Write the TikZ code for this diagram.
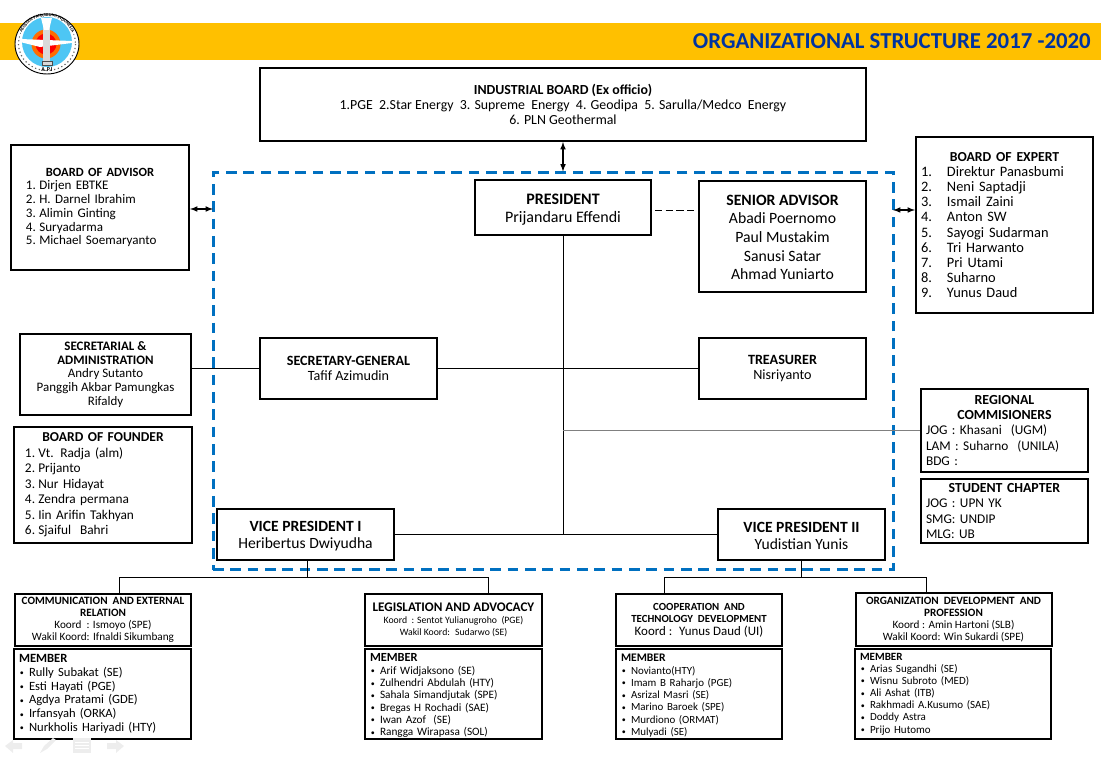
\documentclass[tikz,border=0pt]{standalone}
\usepackage{fontspec}
\setmainfont{Carlito}
\usetikzlibrary{positioning,calc,decorations.text}
\definecolor{bannercol}{HTML}{FFC000}
\definecolor{titlecol}{HTML}{0033A0}
\definecolor{framecol}{HTML}{0070C0}
\definecolor{navcol}{HTML}{EDEDED}
\newcommand{\fs}[2]{\fontsize{#1}{#2}\selectfont}
\newcommand{\boxtitle}[1]{\makebox[\linewidth]{\bfseries #1}}
\newcommand{\nitem}[2]{\makebox[10pt][l]{#1}#2}
\newcommand{\eitem}[2]{\makebox[19.5pt][l]{#1}#2}
\newcommand{\bitem}[1]{\hspace*{0.7pt}\makebox[6.8pt][l]{\raisebox{0.1ex}{\fs{6}{6}\textbullet}}#1}
\begin{document}
\begin{tikzpicture}[
    x=0.75pt, y=-0.75pt,
    boxsize/.style 2 args = {minimum width=#1*0.75pt, minimum height=#2*0.75pt},
    orgbox/.style = {rectangle, draw, line width=1.5pt, fill=white, inner sep=0pt, align=center},
    listbox/.style = {orgbox, align=left, text width=#1*0.75pt},
    link/.style = {line width=0.6pt},
    arrow/.style = {<->, >=latex, line width=0.9pt}
]
    \useasboundingbox (0,0) rectangle (1101,759);

    % Banner
    \fill[bannercol] (0,23) rectangle (1101,60);
    \node[text=titlecol, font=\fs{17.1}{18}\bfseries, anchor=east, inner sep=0pt] (title) at (1091,41) {ORGANIZATIONAL STRUCTURE 2017 -2020};

    % Logo
    \draw[fill=white, line width=0.7pt] (47,44) ellipse (32 and 30);
    \draw[black!60, line width=0.9pt, dotted] (47,44) ellipse (28.5 and 26.5);
    \fill[white] (47,42) circle (27.5);
    \fill[cyan!70] (47,42) circle (25);
    \fill[orange!85!red] (46,44) circle (14.5);
    \fill[red] (46,44) circle (10.5);
    \fill[white] (20,39) -- (72,41) -- (72,43) -- (40,47) -- (20,42) -- cycle;
    \fill[white!85!black] (43,24) rectangle (50,64);
    \fill[white] (41,18) -- (52,18) -- (49,30) -- (44,30) -- cycle;
    \draw[line width=0.5pt, black!70, fill=white!85!black] (42,61) rectangle (52,65);
    \path[postaction={decorate, decoration={text along path, text align=center, text={|\fs{3.3}{4}\bfseries|ASOSIASI PANASBUMI INDONESIA}}}] (47,44) ++(150:27.5) arc[start angle=150, end angle=390, radius=27.5];
    \node[font=\fs{4.5}{5}\bfseries, inner sep=0pt] (logotext) at (47,70) {A.P.I};

    % Dashed frame
    \node[draw=framecol, line width=2.25pt, dash pattern=on 8pt off 5pt, boxsize={680}{397}, inner sep=0pt] (frame) at (553,371.5) {};

    % Top boxes
    \node[orgbox, boxsize={606}{73}, font=\fs{10.4}{11.3}] (board) at (563,104.5) {\textbf{INDUSTRIAL BOARD (Ex officio)}\\1.PGE~ 2.Star Energy~ 3. Supreme~ Energy~ 4. Geodipa~ 5. Sarulla/Medco~ Energy\\6. PLN Geothermal};
    \node[listbox=148, boxsize={178}{125}, font=\fs{9.8}{10.3}] (advisor) at (100,207.5) {\boxtitle{\fs{9.4}{10.3}BOARD OF ADVISOR}\\\nitem{1.}{Dirjen EBTKE}\\\nitem{2.}{H. Darnel Ibrahim}\\\nitem{3.}{Alimin Ginting}\\\nitem{4.}{Suryadarma}\\\nitem{5.}{Michael Soemaryanto}\\[9pt]};
    \node[listbox=167, boxsize={177}{176}, font=\fs{10.8}{11.4}] (expert) at (1004.5,225) {\boxtitle{\fs{10.3}{11.4}BOARD OF EXPERT}\\\eitem{1.}{Direktur Panasbumi}\\\eitem{2.}{Neni Saptadji}\\\eitem{3.}{Ismail Zaini}\\\eitem{4.}{Anton SW}\\\eitem{5.}{Sayogi Sudarman}\\\eitem{6.}{Tri Harwanto}\\\eitem{7.}{Pri Utami}\\\eitem{8.}{Suharno}\\\eitem{9.}{Yunus Daud}\\[1pt]};

    % Officers
    \node[orgbox, boxsize={176}{55}, font=\fs{12}{13.5}] (president) at (563,207.5) {\rule{0pt}{11.5pt}\textbf{PRESIDENT}\\Prijandaru Effendi};
    \node[orgbox, boxsize={167}{111}, font=\fs{11.8}{14}] (senior) at (782.5,236.5) {\rule{0pt}{9pt}\textbf{SENIOR ADVISOR}\\Abadi Poernomo\\Paul Mustakim\\Sanusi Satar\\Ahmad Yuniarto};
    \node[orgbox, boxsize={171}{81}, font=\fs{9.7}{10.3}] (secretarial) at (105.5,374.5) {\textbf{SECRETARIAL \&}\\\textbf{ADMINISTRATION}\\Andry Sutanto\\Panggih Akbar Pamungkas\\Rifaldy};
    \node[orgbox, boxsize={177}{61}, font=\fs{10.6}{11.8}] (secgen) at (348.5,368.5) {\textbf{SECRETARY-GENERAL}\\Tafif Azimudin};
    \node[orgbox, boxsize={167}{61}, font=\fs{10.6}{11.8}] (treasurer) at (782.5,368.5) {\textbf{TREASURER}\\Nisriyanto};
    \node[listbox=157, boxsize={167}{83}, font=\fs{10}{11.3}] (regional) at (1004.5,430.5) {\boxtitle{\fs{10.4}{11.3}REGIONAL}\\\boxtitle{\fs{10.4}{11.3}COMMISIONERS}\\JOG : Khasani~ (UGM)\\LAM : Suharno~ (UNILA)\\BDG :};
    \node[listbox=157, boxsize={167}{64}, font=\fs{10}{11.3}] (student) at (1004.5,511) {\boxtitle{\fs{10.4}{11.3}STUDENT CHAPTER}\\JOG : UPN YK\\SMG: UNDIP\\MLG: UB};
    \node[listbox=156, boxsize={178}{116}, font=\fs{10}{11.6}] (founder) at (103,485) {\boxtitle{\fs{10.2}{11.6}BOARD OF FOUNDER}\\\nitem{1.}{Vt. Radja (alm)}\\\nitem{2.}{Prijanto}\\\nitem{3.}{Nur Hidayat}\\\nitem{4.}{Zendra permana}\\\nitem{5.}{Iin Arifin Takhyan}\\\nitem{6.}{Sjaiful~ Bahri}};
    \node[orgbox, boxsize={177}{51}, font=\fs{11.7}{13.3}] (vpone) at (305.5,534.5) {\rule{0pt}{10pt}\textbf{VICE PRESIDENT I}\\Heribertus Dwiyudha};
    \node[orgbox, boxsize={167}{51}, font=\fs{11.7}{13.3}] (vptwo) at (801.5,534.5) {\rule{0pt}{10pt}\textbf{VICE PRESIDENT II}\\Yudistian Yunis};

    % Divisions
    \node[orgbox, boxsize={176}{52}, font=\fs{8.4}{9}] (comm) at (103,620) {\textbf{COMMUNICATION~ AND EXTERNAL}\\\textbf{RELATION}\\Koord~ : Ismoyo (SPE)\\Wakil Koord: Ifnaldi Sikumbang};
    \node[orgbox, boxsize={177}{52}, font=\fs{7.3}{8.8}] (legis) at (453.5,620) {{\fs{9.85}{10}\textbf{LEGISLATION AND ADVOCACY}}\\Koord~ : Sentot Yulianugroho~ (PGE)\\Wakil Koord:~ Sudarwo (SE)};
    \node[orgbox, boxsize={166}{52}, font=\fs{8.15}{9.5}] (coop) at (699,620) {\textbf{COOPERATION~ AND}\\\textbf{TECHNOLOGY~ DEVELOPMENT}\\{\fs{9.7}{10}Koord :~ Yunus Daud (UI)}};
    \node[orgbox, boxsize={196}{53}, font=\fs{8.4}{9}] (org) at (953.5,619.5) {\textbf{ORGANIZATION~ DEVELOPMENT~ AND}\\\textbf{PROFESSION}\\Koord : Amin Hartoni (SLB)\\Wakil Koord: Win Sukardi (SPE)};

    % Members
    \node[listbox=167, boxsize={177}{90}, font=\fs{9.45}{10.3}] (commteam) at (102.5,694) {\textbf{MEMBER}\\\bitem{Rully Subakat (SE)}\\\bitem{Esti Hayati (PGE)}\\\bitem{Agdya Pratami (GDE)}\\\bitem{Irfansyah (ORKA)}\\\bitem{Nurkholis Hariyadi (HTY)}};
    \node[listbox=167, boxsize={177}{90}, font=\fs{8.45}{9.2}] (legisteam) at (453.5,694) {\rule{0pt}{8pt}{\fs{9.3}{9.2}\textbf{MEMBER}}\\[0.7pt]\bitem{Arif Widjaksono (SE)}\\\bitem{Zulhendri Abdulah (HTY)}\\\bitem{Sahala Simandjutak (SPE)}\\\bitem{Bregas H Rochadi (SAE)}\\\bitem{Iwan Azof~ (SE)}\\\bitem{Rangga Wirapasa (SOL)}};
    \node[listbox=156, boxsize={166}{90}, font=\fs{8.2}{9.2}] (coopteam) at (699,694) {\rule{0pt}{8pt}{\fs{8.7}{9.2}\textbf{MEMBER}}\\[0.4pt]\bitem{Novianto(HTY)}\\\bitem{Imam B Raharjo (PGE)}\\\bitem{Asrizal Masri (SE)}\\\bitem{Marino Baroek (SPE)}\\\bitem{Murdiono (ORMAT)}\\\bitem{Mulyadi (SE)}};
    \node[listbox=186, boxsize={196}{90}, font=\fs{8.25}{9.1}] (orgteam) at (953,694) {{\fs{8.3}{9.1}\textbf{MEMBER}}\\\bitem{Arias Sugandhi (SE)}\\\bitem{Wisnu Subroto (MED)}\\\bitem{Ali Ashat (ITB)}\\\bitem{Rakhmadi A.Kusumo (SAE)}\\\bitem{Doddy Astra}\\\bitem{Prijo Hutomo}};

    % Fixed ends of the links
    \coordinate (advisorlink) at (213,209);
    \coordinate (expertlink) at (893,210);
    \coordinate (dashstart) at (651,210);
    \coordinate (commdrop) at (119,594);
    \coordinate (legisdrop) at (488,594);
    \coordinate (coopdrop) at (664,594);
    \coordinate (orgdrop) at (926,594);
    \coordinate (vponefoot) at (307,560);
    \coordinate (vptwofoot) at (801,560);

    % Arrows
    \draw[arrow] (board.south) -- (board.south |- frame.north);
    \draw[arrow] (advisorlink -| advisor.east) -- (advisorlink);
    \draw[arrow] (expertlink) -- (expertlink -| expert.west);

    % Links
    \draw[link, dash pattern=on 5.5pt off 2.5pt, shorten <=3pt, shorten >=3pt] (dashstart) -- (dashstart -| senior.west);
    \draw[link] (president.south) -- (president.south |- vpone.east);
    \draw[link] (vpone.east) -- (vptwo.west);
    \draw[link] (secgen.west -| secretarial.east) -- (secgen.west);
    \draw[link] (secgen.east) -- (treasurer.west);
    \draw[link, black!50, line width=1.1pt] (president.south |- regional.west) -- (regional.west);
    \draw[link] (vponefoot) -- ++(0,17);
    \draw[link] (commdrop) -- ++(0,-17) -| (legisdrop);
    \draw[link] (vptwofoot) -- ++(0,17);
    \draw[link] (coopdrop) -- ++(0,-17) -| (orgdrop);

    % Slide controls
    \fill[navcol] (5,746) -- (13,740) -- (13,743) -- (22,743) -- (22,749) -- (13,749) -- (13,753) -- cycle;
    \fill[navcol] (40,753) -- (44,746) -- (53,738) -- (56,740) -- (47,749) -- cycle;
    \fill[navcol] (73,738) rectangle (91,753);
    \foreach \rowy in {742,745,748}
        \draw[white, line width=0.6pt] (75,\rowy) -- (89,\rowy);
    \fill[navcol] (124,746) -- (116,740) -- (116,743) -- (107,743) -- (107,749) -- (116,749) -- (116,753) -- cycle;
\end{tikzpicture}
\end{document}
